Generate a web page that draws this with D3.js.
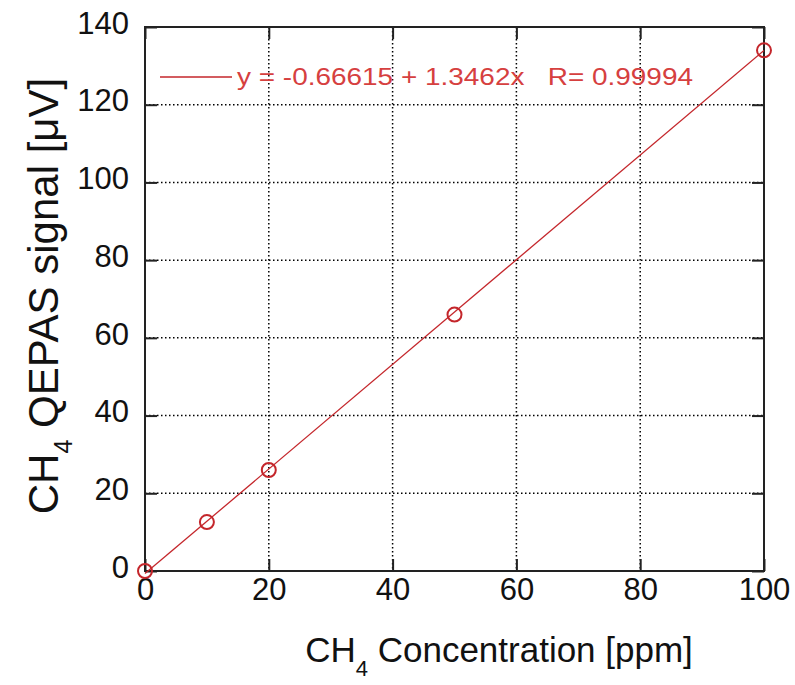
<!DOCTYPE html>
<html>
<head>
<meta charset="utf-8">
<script src="https://cdn.jsdelivr.net/npm/d3@7"></script>
<style>
  body { margin: 0; background: #fff; }
  svg text { font-family: "Liberation Sans", Arial, sans-serif; }
</style>
</head>
<body>
<div id="chart"></div>
<script>
// measured CH4 concentrations and QEPAS signal
const concentration = [0, 10, 20, 50, 100];
const signal = [0, 12.6, 26, 66, 134];
const fitIntercept = -0.66615;
const fitSlope = 1.3462;
const xTicks = [0, 20, 40, 60, 80, 100];
const yTicks = [0, 20, 40, 60, 80, 100, 120, 140];
const legendLabel = "y = -0.66615 + 1.3462x   R= 0.99994";

const W = 795, H = 685;
const margin = { top: 27, right: 31, bottom: 114, left: 145 };
const iw = W - margin.left - margin.right;
const ih = H - margin.top - margin.bottom;

const red = "#c4262b";

const svg = d3.select("#chart").append("svg")
    .attr("width", W)
    .attr("height", H);

const g = svg.append("g").attr("transform", `translate(${margin.left},${margin.top})`);

const x = d3.scaleLinear().domain([0, 100]).range([0, iw]);
const y = d3.scaleLinear().domain([0, 140]).range([ih, 0]);

// dotted grid
g.append("g").selectAll("line")
    .data(xTicks.slice(1, -1))
    .join("line")
    .attr("x1", d => x(d)).attr("x2", d => x(d))
    .attr("y1", 0).attr("y2", ih)
    .attr("stroke", "#000").attr("stroke-width", 1.5)
    .attr("stroke-dasharray", "1.5,2.5");

g.append("g").selectAll("line")
    .data(yTicks.slice(1, -1))
    .join("line")
    .attr("y1", d => y(d)).attr("y2", d => y(d))
    .attr("x1", 0).attr("x2", iw)
    .attr("stroke", "#000").attr("stroke-width", 1.5)
    .attr("stroke-dasharray", "1.5,2.5");

// axes, ticks pointing inward
const tickLen = 12;
const axisStyle = sel => {
    sel.select(".domain").remove();
    sel.selectAll(".tick line").attr("stroke", "#222").attr("stroke-width", 2);
    sel.selectAll(".tick text")
        .attr("fill", "#111")
        .style("font-size", "31px");
};

g.append("g").attr("transform", `translate(0,${ih})`)
    .call(d3.axisBottom(x).tickValues(xTicks).tickSizeInner(-tickLen).tickSizeOuter(0).tickPadding(7))
    .call(axisStyle)
    .selectAll(".tick text").attr("dy", "0.71em");

g.append("g")
    .call(d3.axisTop(x).tickValues(xTicks).tickSizeInner(-tickLen).tickSizeOuter(0))
    .call(axisStyle)
    .selectAll(".tick text").remove();

g.append("g")
    .call(d3.axisLeft(y).tickValues(yTicks).tickSizeInner(-tickLen).tickSizeOuter(0).tickPadding(16))
    .call(axisStyle)
    .selectAll(".tick text").attr("dy", "0.2em");

g.append("g").attr("transform", `translate(${iw},0)`)
    .call(d3.axisRight(y).tickValues(yTicks).tickSizeInner(-tickLen).tickSizeOuter(0))
    .call(axisStyle)
    .selectAll(".tick text").remove();

// frame
g.append("rect")
    .attr("width", iw).attr("height", ih)
    .attr("fill", "none")
    .attr("stroke", "#222").attr("stroke-width", 2);

// fit line
const fitLine = d3.line()
    .x(d => x(d))
    .y(d => y(fitIntercept + fitSlope * d));
g.append("path")
    .datum([0, 100])
    .attr("d", fitLine)
    .attr("fill", "none")
    .attr("stroke", red)
    .attr("stroke-width", 1.3);

// data points
g.append("g").selectAll("circle")
    .data(concentration.map((c, i) => [c, signal[i]]))
    .join("circle")
    .attr("cx", d => x(d[0]))
    .attr("cy", d => y(d[1]))
    .attr("r", 7)
    .attr("fill", "none")
    .attr("stroke", red)
    .attr("stroke-width", 2);

// legend
const legend = g.append("g").attr("transform", `translate(15,50)`);
legend.append("line")
    .attr("x1", 0).attr("x2", 72)
    .attr("stroke", red).attr("stroke-width", 1.3);
legend.append("text")
    .attr("x", 77).attr("y", 8)
    .attr("fill", "#d6403f")
    .style("font-size", "23px")
    .style("white-space", "pre")
    .attr("textLength", 456)
    .attr("lengthAdjust", "spacingAndGlyphs")
    .text(legendLabel);

// axis titles
const xTitle = svg.append("text")
    .attr("x", 499).attr("y", 662)
    .attr("text-anchor", "middle")
    .attr("fill", "#111")
    .style("font-size", "35px");
xTitle.append("tspan").text("CH");
xTitle.append("tspan").attr("dy", 14).style("font-size", "22px").text("4");
xTitle.append("tspan").attr("dy", -14).text(" Concentration [ppm]");

const yTitle = svg.append("text")
    .attr("transform", `translate(58,296) rotate(-90)`)
    .attr("text-anchor", "middle")
    .attr("fill", "#111")
    .style("font-size", "42px");
yTitle.append("tspan").text("CH");
yTitle.append("tspan").attr("dy", 14).style("font-size", "25px").text("4");
yTitle.append("tspan").attr("dy", -14).text(" QEPAS signal [\u03bcV]");
</script>
</body>
</html>
